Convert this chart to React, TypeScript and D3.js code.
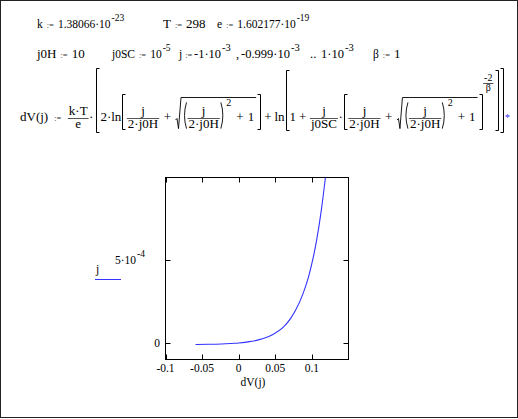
import * as d3 from "d3";
import React from "react";

// curve: dV(j) on x, j on y
const dVValues = [-0.059, -0.041, -0.0235, -0.018, -0.0057, 0, 0.0104, 0.018, 0.028, 0.0356, 0.046, 0.062, 0.0712, 0.078, 0.088, 0.0954, 0.101, 0.1056, 0.1128, 0.1185];
const jValues = [-9e-6, -8e-6, -6e-6, -5e-6, -2e-6, 0, 5e-6, 1e-5, 2e-5, 3e-5, 5e-5, 1e-4, 1.5e-4, 2e-4, 3e-4, 4e-4, 5e-4, 6e-4, 8e-4, 1e-3];
const xTickValues = [-0.1, -0.05, 0, 0.05, 0.1];
const xTickLabels = ["-0.1", "-0.05", "0", "0.05", "0.1"];
const yTickValues = [0, 5e-4];
const xDomain = [-0.1, 0.15];
const yDomain = [-1e-4, 1e-3];

const SERIF = "'Liberation Serif', 'DejaVu Serif', serif";
const INK = "#000";
const BLUE = "#3333ff";

let ctx: CanvasRenderingContext2D | null = null;
function measure(s: string, fs: number, bold = false) {
  if (!ctx) ctx = document.createElement("canvas").getContext("2d");
  ctx!.font = `${bold ? "bold " : ""}${fs}px 'Liberation Serif'`;
  return ctx!.measureText(s).width;
}

// tiny box layout for the Mathcad-style formulas
type Out = React.ReactNode[];
type Box = { w: number; a: number; d: number; draw: (x: number, y: number, out: Out) => void };

function T(s: string, fs = 13, opt: { bold?: boolean; fill?: string } = {}): Box {
  const w = measure(s, fs, opt.bold);
  return {
    w, a: fs * 0.68, d: fs * 0.1,
    draw: (x, y, out) => {
      out.push(
        <text key={out.length} x={x} y={y} fontSize={fs} style={{ fontFamily: SERIF }}
          fontWeight={opt.bold ? "bold" : undefined} fill={opt.fill ?? INK}>
          {s}
        </text>
      );
    },
  };
}
const Gap = (w: number): Box => ({ w, a: 0, d: 0, draw: () => {} });
const DEF = () => T(":=", 8.5, { fill: "#333" });

function Row(...items: Box[]): Box {
  return {
    w: d3.sum(items, (b) => b.w),
    a: d3.max(items, (b) => b.a)!,
    d: d3.max(items, (b) => b.d)!,
    draw: (x, y, out) => {
      let cx = x;
      for (const b of items) {
        b.draw(cx, y, out);
        cx += b.w;
      }
    },
  };
}

function Frac(n: Box, dn: Box, ax = 3.5): Box {
  const w = Math.max(n.w, dn.w) + 3;
  return {
    w, a: ax + 2 + n.d + n.a, d: dn.a + 1 + dn.d - ax,
    draw: (x, y, out) => {
      const by = Math.round(y - ax) + 0.5;
      out.push(<line key={out.length} x1={x + 0.5} x2={x + w - 0.5} y1={by} y2={by} stroke="#555" />);
      n.draw(x + (w - n.w) / 2, by - 2 - n.d, out);
      dn.draw(x + (w - dn.w) / 2, by + 1 + dn.a, out);
    },
  };
}

function Sqrt(c: Box): Box {
  const lw = 7;
  return {
    w: lw + c.w + 2, a: c.a + 3, d: c.d,
    draw: (x, y, out) => {
      const top = Math.round(y - c.a - 3) + 0.5;
      const bot = y + c.d;
      out.push(
        <path key={out.length} d={`M${x + 0.5},${y - 1} L${x + 2},${y - 2.5} L${x + 3.5},${bot} L${x + lw - 1},${top} H${x + lw + c.w + 2}`}
          fill="none" stroke={INK} strokeWidth={0.9} />
      );
      c.draw(x + lw, y, out);
    },
  };
}

function Br(c: Box, padT = 3, padB = 0.5, bw = 4): Box {
  return {
    w: c.w + 2 * bw + 2, a: c.a + padT, d: c.d + padB,
    draw: (x, y, out) => {
      const t = Math.round(y - c.a - padT) + 0.5;
      const b = Math.round(y + c.d + padB) + 0.5;
      const lx = Math.round(x + 1) + 0.5;
      const rx = Math.round(x + c.w + 2 * bw + 1) + 0.5;
      out.push(
        <path key={out.length} d={`M${lx + 3},${t} H${lx} V${b} H${lx + 3} M${rx - 3},${t} H${rx} V${b} H${rx - 3}`}
          fill="none" stroke={INK} strokeWidth={1} />
      );
      c.draw(x + bw + 1, y, out);
    },
  };
}

function Paren(c: Box, padT = 3, padB = 0): Box {
  const bw = 5;
  return {
    w: c.w + 2 * bw, a: c.a + padT, d: c.d + padB,
    draw: (x, y, out) => {
      const t = y - c.a - padT, b = y + c.d + padB, m = (t + b) / 2;
      const lx = x + 1.5, rx = x + c.w + 2 * bw - 1.5;
      out.push(
        <path key={out.length} d={`M${lx + 3},${t} Q${lx - 1},${m} ${lx + 3},${b} M${rx - 3},${t} Q${rx + 1},${m} ${rx - 3},${b}`}
          fill="none" stroke={INK} strokeWidth={0.9} />
      );
      c.draw(x + bw, y, out);
    },
  };
}

function Sup(base: Box, exp: Box, rise: number, gap = 1): Box {
  return {
    w: base.w + gap + exp.w,
    a: Math.max(base.a, rise + exp.a),
    d: Math.max(base.d, exp.d - rise),
    draw: (x, y, out) => {
      base.draw(x, y, out);
      exp.draw(x + base.w + gap, y - rise, out);
    },
  };
}

function buildFormulas(): Out {
  const out: Out = [];
  const s = 11.5, e = 9.5;
  const num = (m: string, p: string, fs = s) => Sup(T(m, fs), T(p, e + (fs - s)), 7.5);

  // first line of definitions
  Row(T("k", s), Gap(4), DEF(), Gap(4), num("1.38066·10", "-23")).draw(37, 28, out);
  Row(T("T", 13), Gap(4), DEF(), Gap(4), T("298", 13)).draw(163, 28, out);
  Row(T("e", s), Gap(4), DEF(), Gap(4), num("1.602177·10", "-19")).draw(217, 28, out);

  // second line
  Row(T("j0H", 13), Gap(4), DEF(), Gap(4), T("10", 13)).draw(37, 58, out);
  Row(T("j0SC", s), Gap(4), DEF(), Gap(4), num("10", "-5")).draw(112, 58, out);
  Row(T("j", s), Gap(3), DEF()).draw(179, 58, out);
  num("-1·10", "-3", 12.5).draw(194, 58, out);
  T(",", 12.5).draw(236, 58, out);
  num("-0.999·10", "-3", 12.5).draw(241, 58, out);
  T("..", 12.5).draw(310, 58, out);
  num("1·10", "-3", 12.5).draw(321, 58, out);
  Row(T("β", s), Gap(4), DEF(), Gap(4), T("1", 13)).draw(373, 58, out);

  // dV(j) definition
  const jOver = () => Frac(T("j"), T("2·j0H"));
  const root = () => {
    const p = Paren(jOver());
    return Sqrt(Row(Sup(p, T("2", 10), p.a - 4), Gap(5), T("+"), Gap(4), T("1")));
  };
  const inner = () => Row(jOver(), Gap(4), T("+"), Gap(4), root());
  const br2 = Br(inner());
  const expo = Frac(T("-2", 10), T("β", 10), 3);
  const ln2 = Br(
    Row(T("1"), Gap(3), T("+"), Gap(3), Frac(T("j"), T("j0SC")), T("·"), Sup(br2, expo, br2.a + 8, 0)),
    3, 1
  );
  const outer = Br(Row(T("2·ln"), Br(inner()), Gap(3), T("+"), Gap(3), T("ln"), ln2), 1.5, 1.5);
  Row(
    T("dV(j)"), Gap(6), DEF(), Gap(6), Frac(T("k·T"), T("e")), T("·"), Gap(2), outer, Gap(1),
    T("*", 10, { fill: BLUE })
  ).draw(20, 121, out);
  return out;
}

export default function App() {
  const width = 518;
  const height = 419;
  const plot = { left: 165.5, right: 348.5, top: 177.5, bottom: 359.5 };

  const x = d3.scaleLinear().domain(xDomain).range([plot.left, plot.right]);
  const y = d3.scaleLinear().domain(yDomain).range([plot.bottom, plot.top]);
  const line = d3
    .line<number>()
    .x((_, i) => x(dVValues[i]))
    .y((_, i) => y(jValues[i]))
    .curve(d3.curveMonotoneX);

  const formulas = buildFormulas();
  const tick = 5;
  const label = { fontFamily: SERIF };

  return (
    <svg width={width} height={height} style={{ position: "absolute", left: 0, top: 0, background: "#fff" }}>
      <rect x={0.5} y={0.5} width={width - 1} height={height - 2} fill="#fff" stroke="#222" />
      <g>{formulas}</g>

      {/* plot frame and ticks */}
      <rect x={plot.left} y={plot.top} width={plot.right - plot.left} height={plot.bottom - plot.top}
        fill="none" stroke={INK} />
      <g stroke={INK}>
        {xTickValues.map((v) => {
          const px = Math.round(x(v)) + 0.5;
          return (
            <g key={v}>
              <line x1={px} x2={px} y1={plot.bottom} y2={plot.bottom - tick} />
              <line x1={px} x2={px} y1={plot.top} y2={plot.top + tick} />
            </g>
          );
        })}
        {yTickValues.map((v) => {
          const py = Math.round(y(v)) + 0.5;
          return (
            <g key={v}>
              <line x1={plot.left} x2={plot.left + tick} y1={py} y2={py} />
              <line x1={plot.right} x2={plot.right - tick} y1={py} y2={py} />
            </g>
          );
        })}
      </g>
      <g fontSize={11.5} textAnchor="middle" fill={INK}>
        {xTickValues.map((v, i) => (
          <text key={v} x={x(v)} y={372} style={label}>{xTickLabels[i]}</text>
        ))}
        <text x={253} y={386} style={label}>dV(j)</text>
      </g>
      <g fontSize={11.5} textAnchor="end" fill={INK}>
        <text x={160} y={y(0) + 4} style={label}>0</text>
        <text x={145} y={y(5e-4) + 4} style={label}>
          5·10
          <tspan fontSize={9.5} dy={-7.5} dx={1}>-4</tspan>
        </text>
      </g>

      <path d={line(jValues) ?? ""} fill="none" stroke={BLUE} strokeWidth={1.1} />

      {/* legend */}
      <text x={96} y={273} fontSize={11.5} fill={INK} style={label}>j</text>
      <line x1={95} x2={121} y1={279.5} y2={279.5} stroke={BLUE} />
    </svg>
  );
}
